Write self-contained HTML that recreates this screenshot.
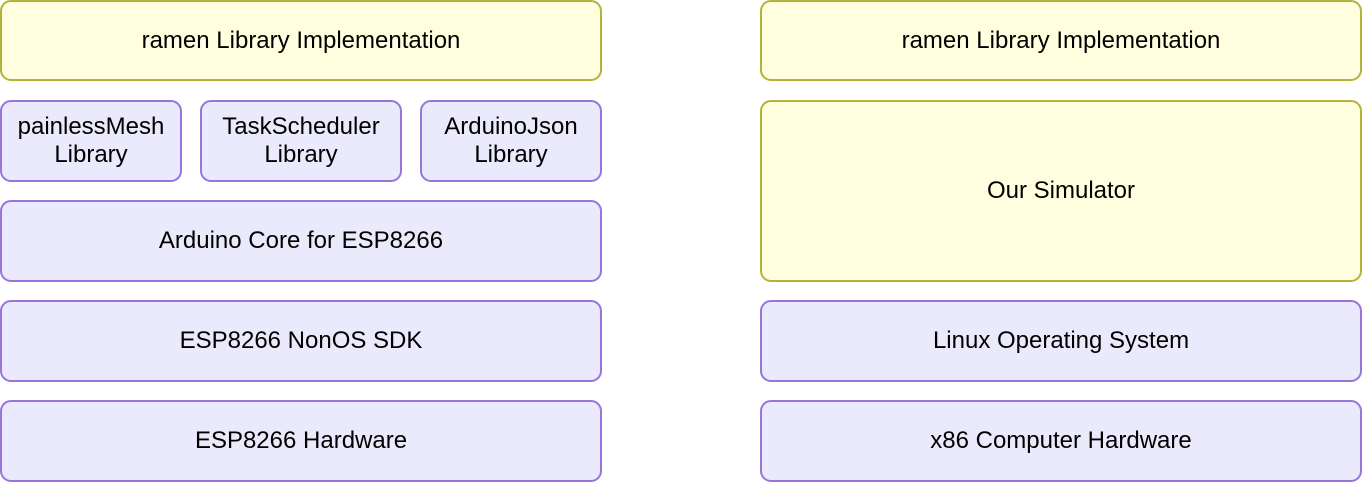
<!DOCTYPE html>
<html><head><style>
html,body{margin:0;padding:0;background:#fff;}
body{width:1362px;height:484px;position:relative;overflow:hidden;font-family:"Liberation Sans",Arial,sans-serif;font-size:24px;color:#000;}
.b{position:absolute;box-sizing:border-box;border:2px solid #9775db;background:#eaeafc;border-radius:11px;display:flex;align-items:center;justify-content:center;text-align:center;line-height:28px;}
.y{border-color:#b3b33c;background:#ffffdf;}
</style></head><body>
<div class="b y" style="left:0;top:0;width:602px;height:81px">ramen Library Implementation</div>
<div class="b" style="left:0;top:100px;width:182px;height:82px">painlessMesh<br>Library</div>
<div class="b" style="left:200px;top:100px;width:202px;height:82px">TaskScheduler<br>Library</div>
<div class="b" style="left:420px;top:100px;width:182px;height:82px">ArduinoJson<br>Library</div>
<div class="b" style="left:0;top:200px;width:602px;height:82px">Arduino Core for ESP8266</div>
<div class="b" style="left:0;top:300px;width:602px;height:82px">ESP8266 NonOS SDK</div>
<div class="b" style="left:0;top:400px;width:602px;height:82px">ESP8266 Hardware</div>
<div class="b y" style="left:760px;top:0;width:602px;height:81px">ramen Library Implementation</div>
<div class="b y" style="left:760px;top:100px;width:602px;height:182px">Our Simulator</div>
<div class="b" style="left:760px;top:300px;width:602px;height:82px">Linux Operating System</div>
<div class="b" style="left:760px;top:400px;width:602px;height:82px">x86 Computer Hardware</div>
</body></html>
